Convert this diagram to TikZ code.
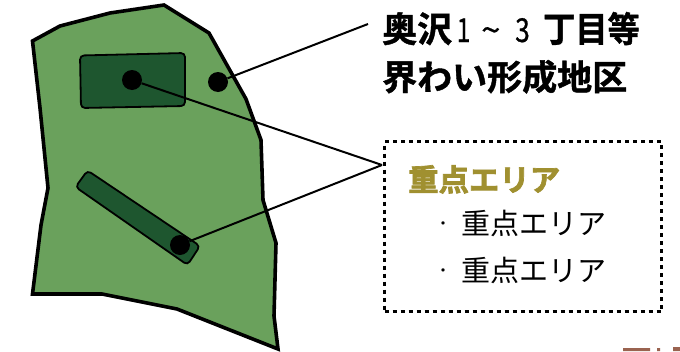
\documentclass[tikz,border=0pt]{standalone}
\usepackage{fontspec}
\newfontfamily\cjk{Noto Sans CJK JP}
\newfontfamily\cjkd[FakeBold=0.6]{Noto Sans CJK JP}
\newfontfamily\cjkb[BoldFont={Noto Sans CJK JP Bold},BoldFeatures={FakeBold=1.2}]{Noto Sans CJK JP}
\newfontfamily\cjkh[BoldFont={Noto Sans CJK JP Bold},BoldFeatures={FakeBold=2.2}]{Noto Sans CJK JP}
\definecolor{landgreen}{HTML}{6AA15C}
\definecolor{zonegreen}{HTML}{1E562F}
\definecolor{headgold}{HTML}{A09030}
\definecolor{cutbrown}{HTML}{9A6350}
\newcommand{\smalldot}{\raisebox{5.5pt}{\fontsize{16}{16}\selectfont ・}\hspace{10.5pt}}
\tikzset{
  land/.style={draw=black,line width=3.6pt,fill=landgreen,line join=miter},
  zone/.style={draw=black,line width=1.8pt,fill=zonegreen,rounded corners=4pt},
  spot/.style={circle,fill=black,inner sep=0pt,minimum size=20pt},
  leader/.style={draw=black,line width=2pt},
  callout/.style={draw=black,line width=3pt,dash pattern=on 4pt off 4pt,fill=white},
  lab/.style={anchor=base west,inner sep=0pt,font=\cjkb\bfseries\fontsize{35}{35}\selectfont},
  digit/.style={anchor=base west,inner sep=0pt,font=\cjkd\fontsize{33}{33}\selectfont},
  head/.style={anchor=base west,inner sep=0pt,text=headgold,font=\cjkh\bfseries\fontsize{30.4}{30.4}\selectfont},
  item/.style={anchor=base west,inner sep=0pt,font=\cjk\fontsize{29}{29}\selectfont}
}
\begin{document}
\begin{tikzpicture}[x=1pt,y=-1pt]
\useasboundingbox (0,0) rectangle (680,351);
\fill[cutbrown] (623,348) rectangle (650,351) (657,348) rectangle (660,351) (673,347) rectangle (680,351);
\draw[land] (32.5,41) -- (60,26) -- (110,13) -- (164,5) -- (209,33) -- (246,99) -- (261,140) -- (263,200) -- (276,243) -- (274,316) -- (278,349) -- (177,309) -- (102,294) -- (32.5,294) -- (41,225) -- (48,188) -- (40,108) -- cycle;
\draw[zone] (80,55.5) -- (185,53) -- (185,106) -- (81,108) -- cycle;
\draw[zone] (75.5,187) -- (87.5,170.5) -- (200,246) -- (187.5,265) -- cycle;
\node[spot] (a) at (132,80) {};
\node[spot] (b) at (218,82) {};
\node[spot] (c) at (180,245) {};
\coordinate (l) at (368,24);
\coordinate (k) at (382,165);
\draw[leader] (b) -- (l);
\draw[leader] (a) -- (k);
\draw[leader] (c) -- (k);
\node[callout,minimum width=277pt,minimum height=170pt,anchor=north west] (box) at (383,140) {};
\node[lab] (t1) at (382,42) {奥沢};
\node[digit,xscale=0.75] (d1) at (456.5,42) {1};
\node[digit,xscale=1.05] (d2) at (481,42) {\textasciitilde};
\node[digit,xscale=0.8] (d3) at (515,42) {3};
\node[lab,xscale=0.92] (t1b) at (543,42) {丁目等};
\node[lab] (t2) at (382,90) {界わい形成地区};
\node[head] (h) at (408,191) {重点エリア};
\node[item] (i1) at (435,234.5) {\smalldot 重点エリア};
\node[item] (i2) at (435,281.5) {\smalldot 重点エリア};
\end{tikzpicture}
\end{document}
